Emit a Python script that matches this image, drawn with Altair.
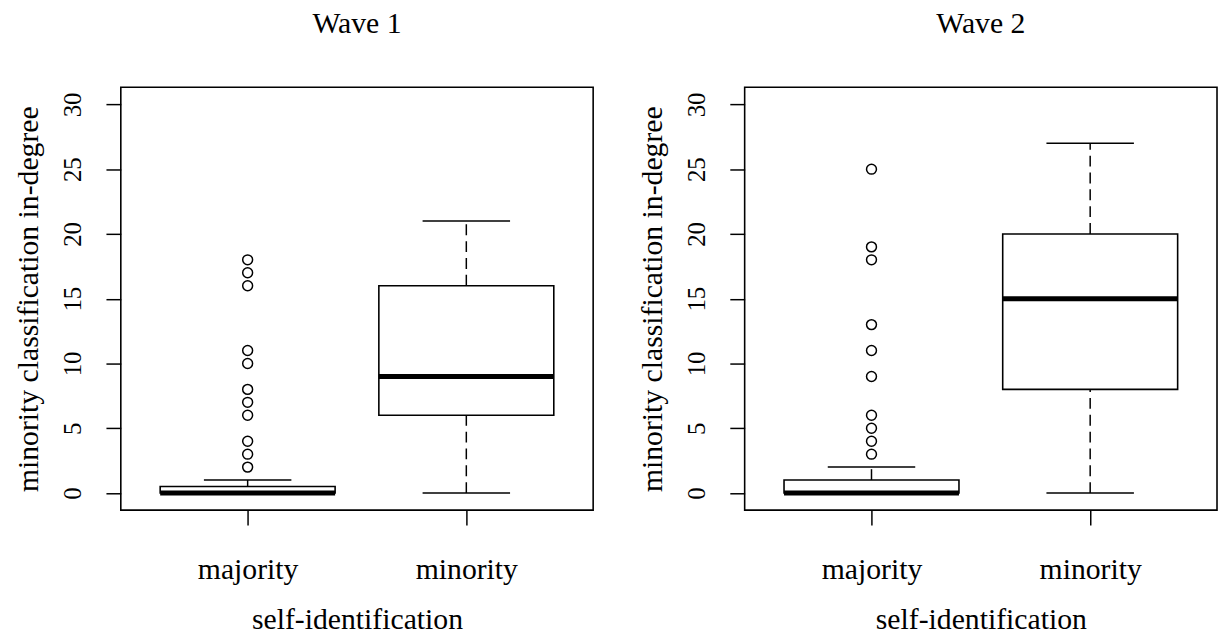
import altair as alt
import pandas as pd

# ---- data ----
groups = ["majority", "minority"]
group_pos = [1, 2]

w1_lower = [0, 0]
w1_q1 = [0, 6]
w1_median = [0, 9]
w1_q3 = [0.5, 16]
w1_upper = [1, 21]
w1_outliers = [2, 3, 4, 6, 7, 8, 10, 11, 16, 17, 18]   # all in "majority"

w2_lower = [0, 0]
w2_q1 = [0, 8]
w2_median = [0, 15]
w2_q3 = [1, 20]
w2_upper = [2, 27]
w2_outliers = [3, 4, 5, 6, 9, 11, 13, 18, 19, 25]       # all in "majority"

y_ticks = [0, 5, 10, 15, 20, 25, 30]

FONT = "Liberation Serif"
BOXWEX = 0.8
STAPLE = 0.4
PW, PH = 477, 427


def panel(title, lower, q1, med, q3, upper, outliers):
    stats = pd.DataFrame({"group": groups, "pos": group_pos, "lower": lower,
                          "q1": q1, "median": med, "q3": q3, "upper": upper})
    out = pd.DataFrame({"pos": [group_pos[0]] * len(outliers), "value": outliers})

    xs = alt.Scale(domain=[0.42, 2.58], nice=False, zero=False)
    ys = alt.Scale(domain=[-1.32, 31.32], nice=False, zero=False)
    label_expr = "[" + ",".join("'%s'" % g for g in groups) + "][datum.value - 1]"
    xaxis = alt.Axis(values=group_pos, labelExpr=label_expr, title="self-identification",
                     grid=False, domain=False, tickSize=15, tickColor="black", tickWidth=1.5,
                     labelFont=FONT, labelFontSize=30, labelColor="black",
                     labelBaseline="alphabetic", labelPadding=54,
                     titleFont=FONT, titleFontSize=30, titleFontWeight="normal",
                     titleColor="black", titleBaseline="alphabetic", titleY=120, titleX=PW / 2)
    yaxis = alt.Axis(values=y_ticks, title="minority classification in-degree",
                     grid=False, domain=False, tickSize=15, tickColor="black", tickWidth=1.5,
                     labelFont=FONT, labelFontSize=25, labelColor="black",
                     labelAngle=270, labelAlign="center", labelBaseline="middle", labelPadding=34,
                     titleFont=FONT, titleFontSize=30, titleFontWeight="normal",
                     titleColor="black", titleBaseline="middle", titleX=-93, titleY=PH / 2,
                     titleAngle=270)

    base = alt.Chart(stats).transform_calculate(
        box_lo="datum.pos - %f" % (BOXWEX / 2), box_hi="datum.pos + %f" % (BOXWEX / 2),
        cap_lo="datum.pos - %f" % (STAPLE / 2), cap_hi="datum.pos + %f" % (STAPLE / 2),
    )

    whisk_up = base.mark_rule(color="black", strokeWidth=1.5, strokeDash=[11, 6]).encode(
        x=alt.X("pos:Q", scale=xs, axis=xaxis), y=alt.Y("q3:Q", scale=ys, axis=yaxis), y2="upper:Q")
    whisk_lo = base.mark_rule(color="black", strokeWidth=1.5, strokeDash=[11, 6]).encode(
        x=alt.X("pos:Q", scale=xs, axis=xaxis), y=alt.Y("lower:Q", scale=ys, axis=yaxis), y2="q1:Q")
    cap_up = base.mark_rule(color="black", strokeWidth=1.5).encode(
        x=alt.X("cap_lo:Q", scale=xs, axis=xaxis), x2="cap_hi:Q",
        y=alt.Y("upper:Q", scale=ys, axis=yaxis))
    cap_lo = base.mark_rule(color="black", strokeWidth=1.5).encode(
        x=alt.X("cap_lo:Q", scale=xs, axis=xaxis), x2="cap_hi:Q",
        y=alt.Y("lower:Q", scale=ys, axis=yaxis))
    box = base.mark_rect(fill="white", stroke="black", strokeWidth=1.6).encode(
        x=alt.X("box_lo:Q", scale=xs, axis=xaxis), x2="box_hi:Q",
        y=alt.Y("q1:Q", scale=ys, axis=yaxis), y2="q3:Q")
    median = base.mark_rule(color="black", strokeWidth=5).encode(
        x=alt.X("box_lo:Q", scale=xs, axis=xaxis), x2="box_hi:Q",
        y=alt.Y("median:Q", scale=ys, axis=yaxis))
    pts = alt.Chart(out).mark_point(shape="circle", filled=False, color="black",
                                    size=100, strokeWidth=1.5, opacity=1).encode(
        x=alt.X("pos:Q", scale=xs, axis=xaxis), y=alt.Y("value:Q", scale=ys, axis=yaxis))

    return alt.layer(whisk_up, whisk_lo, cap_lo, cap_up, box, median, pts).properties(
        width=PW, height=PH,
        title=alt.TitleParams(title, font=FONT, fontSize=30, fontWeight="normal",
                              color="black", baseline="alphabetic", offset=25, anchor="middle"))


left = panel("Wave 1", w1_lower, w1_q1, w1_median, w1_q3, w1_upper, w1_outliers)
right = panel("Wave 2", w2_lower, w2_q1, w2_median, w2_q3, w2_upper, w2_outliers)

chart = alt.hconcat(left, right, spacing=43).properties(
    padding={"left": 13, "top": 5, "right": 0, "bottom": 0},
    background="white",
).configure_view(stroke="black", strokeWidth=1.6).resolve_scale(x="independent", y="independent")

chart.save("out.html", embed_options={"renderer": "svg", "actions": False})
